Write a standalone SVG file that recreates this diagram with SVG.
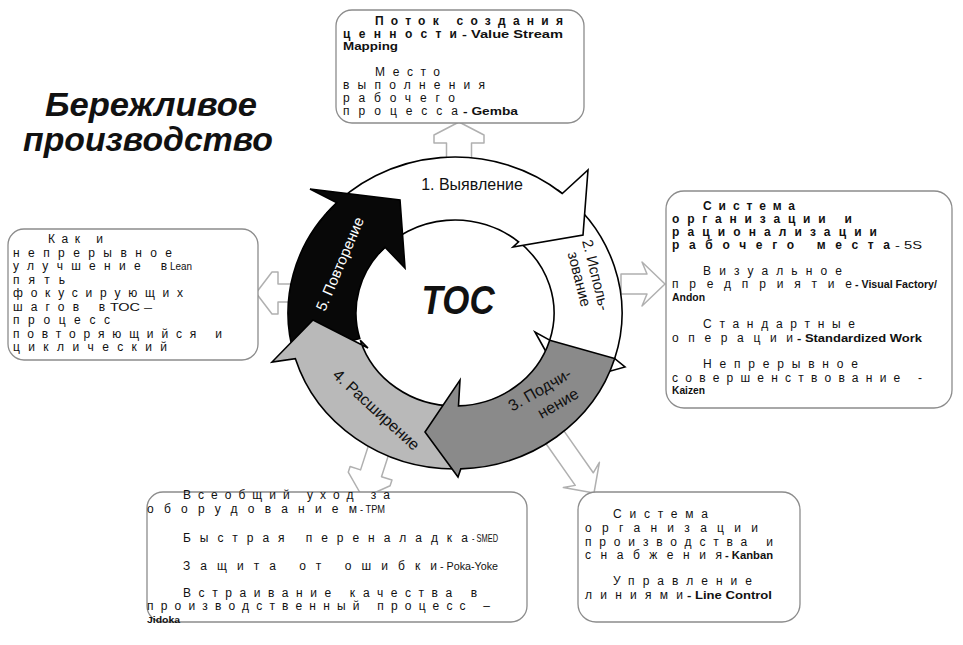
<svg xmlns="http://www.w3.org/2000/svg" width="963" height="645" viewBox="0 0 963 645">
<style>
.box{fill:#fff;stroke:#8c8c8c;stroke-width:1.3}
.con{fill:#fff;stroke:#b0b0b0;stroke-width:1.5;stroke-linejoin:round}
.ring{stroke:#000;stroke-width:1.6;stroke-linejoin:miter}
.t{font-family:"Liberation Sans",Arial,sans-serif;font-size:12px;fill:#111}
.b{font-weight:bold}
.lat{font-size:11px;font-weight:bold}
.sm{font-size:11px}
.lbl{font-family:"Liberation Sans",Arial,sans-serif;font-size:16px;fill:#111}
</style>
<rect width="963" height="645" fill="#fff"/>

<g id="title">
<text class="t" x="45" y="116" textLength="212" lengthAdjust="spacingAndGlyphs" style="font-size:33px;font-weight:bold;font-style:italic">Бережливое</text>
<text class="t" x="23" y="151" textLength="250" lengthAdjust="spacingAndGlyphs" style="font-size:33px;font-weight:bold;font-style:italic">производство</text>
</g>

<g id="connectors">
<polygon class="con" transform="translate(459,122) rotate(-90)" points="0,0 -13,-25 -21,-25 -21,-12.5 -40,-12.5 -40,12.5 -21,12.5 -21,25 -13,25"/>
<polygon class="con" transform="translate(256,293) rotate(180)" points="0,0 -16,-21 -22,-21 -22,-9 -42,-9 -42,9 -22,9 -22,21 -16,21"/>
<polygon class="con" transform="translate(665,284)" points="0,0 -23,-22 -18,-10 -44,-10 -44,10 -18,10 -23,22"/>
<polygon class="con" transform="translate(363,498) rotate(108)" points="0,0 -20,-22 -26,-22 -26,-11 -55,-11 -55,11 -26,11 -26,22 -20,22"/>
<polygon class="con" transform="translate(594,493) rotate(55)" points="0,0 -22,-22 -17,-11 -70,-11 -70,11 -17,11 -22,22"/>
</g>

<g id="cycle">
<path id="arrow2" class="ring" fill="#fff" d="M 516,239.7 L 557.8,190.1 A 167 156 0 0 1 614.7,358.6 L 625,367 L 564,384 L 535,332 L 549.7,340.2 A 99 93 0 0 0 516,239.7 Z"/>
<path id="arrow1" class="ring" fill="#fff" d="M 379.2,253.2 L 327.1,212.7 A 167 156 0 0 1 562.3,193.5 L 588,170 L 583,235 L 513,247 L 518.6,241.8 A 99 93 0 0 0 379.2,253.2 Z"/>
<path id="arrow5" class="ring" fill="#080808" d="M 359.8,338.6 L 294.5,356 A 167 156 0 0 1 336.9,202.7 L 310,189 L 400,200 L 405,268 L 385,247.2 A 99 93 0 0 0 359.8,338.6 Z"/>
<path id="arrow4" class="ring" fill="#b9b9b9" d="M 455,406 L 455,469 A 167 156 0 0 1 295.3,358.6 L 272,362 L 313,320 L 368,348 L 360.3,340.2 A 99 93 0 0 0 455,406 Z"/>
<path id="arrow3" class="ring" fill="#8a8a8a" d="M 549.7,340.2 L 614.7,358.6 A 167 156 0 0 1 460.8,468.9 L 458,477 L 425,432 L 460,380 L 458.5,405.9 A 99 93 0 0 0 549.7,340.2 Z"/>
</g>

<g id="cycle-labels">
<text class="lbl" x="472" y="190" text-anchor="middle">1. Выявление</text>
<g transform="translate(588,277) rotate(76)">
<text class="lbl" x="0" y="-3" text-anchor="middle" style="font-size:15px">2. Исполь-</text>
<text class="lbl" x="0" y="14" text-anchor="middle" style="font-size:15px">зование</text>
</g>
<g transform="translate(540,390) rotate(-30)">
<text class="lbl" x="0" y="5" text-anchor="middle">3. Подчи-</text>
<text class="lbl" x="9" y="26" text-anchor="middle">нение</text>
</g>
<text class="lbl" transform="translate(376,410) rotate(42.5)" x="0" y="5" text-anchor="middle">4. Расширение</text>
<text class="lbl" transform="translate(340,264) rotate(-67)" x="0" y="5" text-anchor="middle" style="font-size:15px;fill:#fff">5. Повторение</text>
<text class="t" transform="translate(458,314) scale(0.85,1)" text-anchor="middle" style="font-size:41px;font-weight:bold;font-style:italic">ТОС</text>
</g>

<g id="box-top">
<rect class="box" x="336" y="10" width="248" height="113" rx="16"/>
<text class="t b" x="375" y="25" textLength="188" lengthAdjust="spacing">Поток создания</text>
<text class="t b" x="343" y="37.5" textLength="114" lengthAdjust="spacing">ценности</text>
<text class="t lat" x="462" y="37.5" textLength="101" lengthAdjust="spacingAndGlyphs">- Value Stream</text>
<text class="t lat" x="343" y="50" textLength="55" lengthAdjust="spacingAndGlyphs">Mapping</text>
<text class="t" x="375" y="76" textLength="65" lengthAdjust="spacing">Место</text>
<text class="t" x="343" y="89" textLength="142" lengthAdjust="spacing">выполнения</text>
<text class="t" x="343" y="102" textLength="112" lengthAdjust="spacing">рабочего</text>
<text class="t" x="343" y="115" textLength="115" lengthAdjust="spacing">процесса</text>
<text class="t lat" x="463" y="115" textLength="55" lengthAdjust="spacingAndGlyphs">- Gemba</text>
</g>

<g id="box-left">
<rect class="box" x="8" y="229" width="250" height="131" rx="16"/>
<text class="t" x="48" y="243" textLength="55" lengthAdjust="spacing">Как и</text>
<text class="t" x="13" y="257" textLength="159" lengthAdjust="spacing">непрерывное</text>
<text class="t" x="13" y="270" textLength="154" lengthAdjust="spacing">улучшение в</text>
<text class="t sm" x="170" y="270" textLength="22" lengthAdjust="spacingAndGlyphs">Lean</text>
<text class="t" x="13" y="284" textLength="52" lengthAdjust="spacing">пять</text>
<text class="t" x="13" y="297" textLength="170" lengthAdjust="spacing">фокусирующих</text>
<text class="t" x="13" y="311" textLength="92" lengthAdjust="spacing">шагов в</text>
<text class="t sm" x="110" y="311" textLength="42" lengthAdjust="spacingAndGlyphs">ТОС –</text>
<text class="t" x="13" y="324" textLength="97" lengthAdjust="spacing">процесс</text>
<text class="t" x="13" y="338" textLength="209" lengthAdjust="spacing">повторяющийся и</text>
<text class="t" x="13" y="351" textLength="154" lengthAdjust="spacing">циклический</text>
</g>

<g id="box-right">
<rect class="box" x="666" y="191" width="286" height="217" rx="18"/>
<text class="t b" x="703" y="210" textLength="92" lengthAdjust="spacing">Система</text>
<text class="t b" x="672" y="223" textLength="180" lengthAdjust="spacing">организации и</text>
<text class="t b" x="672" y="236" textLength="205" lengthAdjust="spacing">рационализации</text>
<text class="t b" x="672" y="249" textLength="218" lengthAdjust="spacing">рабочего места</text>
<text class="t sm" x="895" y="249" textLength="27" lengthAdjust="spacingAndGlyphs">- 5S</text>
<text class="t" x="703" y="275" textLength="139" lengthAdjust="spacing">Визуальное</text>
<text class="t" x="672" y="288" textLength="180" lengthAdjust="spacing">предприятие</text>
<text class="t lat" x="855" y="288" textLength="82" lengthAdjust="spacingAndGlyphs">- Visual Factory/</text>
<text class="t lat" x="672" y="301" textLength="33" lengthAdjust="spacingAndGlyphs">Andon</text>
<text class="t" x="703" y="328" textLength="152" lengthAdjust="spacing">Стандартные</text>
<text class="t" x="672" y="342" textLength="121" lengthAdjust="spacing">операции</text>
<text class="t lat" x="797" y="342" textLength="125" lengthAdjust="spacingAndGlyphs">- Standardized Work</text>
<text class="t" x="703" y="368" textLength="155" lengthAdjust="spacing">Непрерывное</text>
<text class="t" x="672" y="382" textLength="250" lengthAdjust="spacing">совершенствование -</text>
<text class="t lat" x="672" y="394" textLength="33" lengthAdjust="spacingAndGlyphs">Kaizen</text>
</g>

<g id="box-bottom-left">
<rect class="box" x="147" y="492" width="380" height="130" rx="16"/>
<text class="t" x="183" y="499" textLength="207" lengthAdjust="spacing">Всеобщий уход за</text>
<text class="t" x="147" y="513" textLength="210" lengthAdjust="spacing">оборудованием</text>
<text class="t sm" x="360" y="513" textLength="25" lengthAdjust="spacingAndGlyphs">- TPM</text>
<text class="t" x="183" y="542" textLength="285" lengthAdjust="spacing">Быстрая переналадка</text>
<text class="t sm" x="472" y="542" textLength="26" lengthAdjust="spacingAndGlyphs">- SMED</text>
<text class="t" x="183" y="570" textLength="254" lengthAdjust="spacing">Защита от ошибки</text>
<text class="t sm" x="440" y="570" textLength="58" lengthAdjust="spacingAndGlyphs">- Poka-Yoke</text>
<text class="t" x="183" y="597" textLength="294" lengthAdjust="spacing">Встраивание качества в</text>
<text class="t" x="147" y="610" textLength="343" lengthAdjust="spacing">производственный процесс –</text>
<text class="t" x="147" y="623" textLength="33" lengthAdjust="spacingAndGlyphs" style="font-size:9.5px;font-weight:bold">Jidoka</text>
</g>

<g id="box-bottom-right">
<rect class="box" x="578" y="492" width="222" height="130" rx="18"/>
<text class="t" x="613" y="518" textLength="95" lengthAdjust="spacing">Система</text>
<text class="t" x="585" y="532" textLength="173" lengthAdjust="spacing">организации</text>
<text class="t" x="585" y="546" textLength="188" lengthAdjust="spacing">производства и</text>
<text class="t" x="585" y="559" textLength="137" lengthAdjust="spacing">снабжения</text>
<text class="t lat" x="725" y="559" textLength="48" lengthAdjust="spacingAndGlyphs">- Kanban</text>
<text class="t" x="613" y="585" textLength="139" lengthAdjust="spacing">Управление</text>
<text class="t" x="585" y="599" textLength="98" lengthAdjust="spacing">линиями</text>
<text class="t lat" x="687" y="599" textLength="85" lengthAdjust="spacingAndGlyphs">- Line Control</text>
</g>
</svg>
